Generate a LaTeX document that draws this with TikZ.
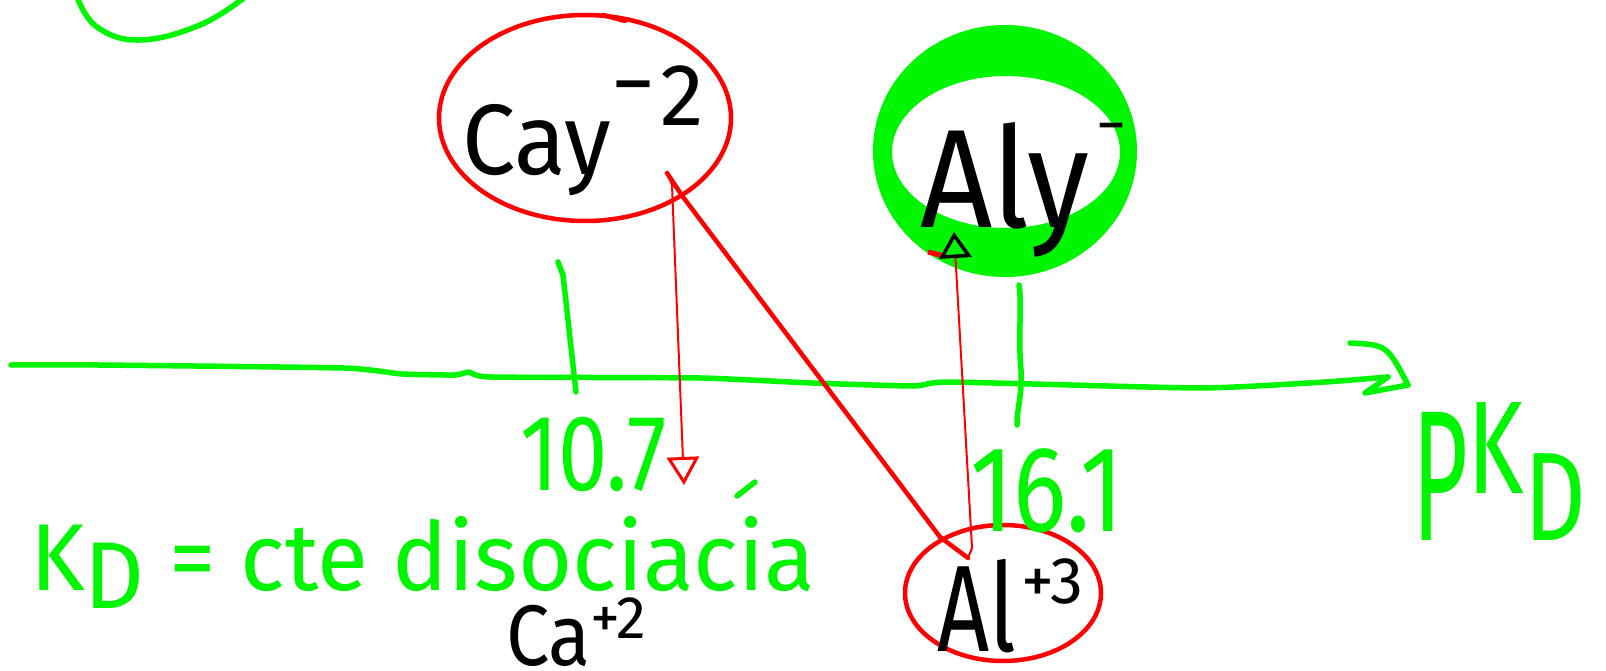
\documentclass[tikz,border=0pt]{standalone}
\usepackage{fontspec}
\setmainfont{Fira Sans}
\usetikzlibrary{arrows.meta,shapes.geometric}
\definecolor{hgreen}{RGB}{0,245,0}
\definecolor{hred}{RGB}{255,0,0}
\newcommand\fsz[1]{\fontsize{#1}{#1}\selectfont}
\begin{document}
\begin{tikzpicture}[x=1pt,y=-1pt,
  gline/.style={draw=hgreen,line width=5.5pt,line cap=round,line join=round},
  rthin/.style={draw=hred,line width=2pt,line cap=round,line join=round},
  rthick/.style={draw=hred,line width=4.5pt,line cap=round,line join=round},
  rring/.style={ellipse,draw=hred,line width=4.5pt,inner sep=0pt},
  hand/.style={inner sep=0pt,outer sep=0pt,anchor=base west},
  gtext/.style={hand,text=hgreen},
  ktext/.style={hand,text=black}]
\fill[white] (0,0) rectangle (1606,671);
\useasboundingbox (0,0) rectangle (1606,671);

% top-left arc
\draw[gline] plot[smooth,tension=0.7] coordinates {(77,-3) (97,27) (140,40) (200,25) (245,-3)};

% axis
\coordinate (ax0) at (11,365);
\coordinate (axend) at (1388,377);
\draw[gline] plot[smooth,tension=0.3] coordinates {(ax0) (98,365) (344,368) (402,374) (455,375) (469,372) (491,377) (700,378) (812,383) (914,386) (950,382) (1200,388) (1325,382) (axend)};
\draw[gline] (axend) -- (1365,393) -- (1408,385);
\draw[gline] (1350,343) .. controls (1387,345) .. (1408,385);

% ticks
\draw[gline] (558,262) -- (563,275) -- (576,392);
\draw[gline] (1019,285) .. controls (1022,300) and (1018,340) .. (1021,370) .. controls (1022,400) and (1017,405) .. (1017,425);

% ellipses
\node[rring, minimum width=292pt, minimum height=206pt] (cay) at (585,118) {};
\draw[rthick] (603,15) -- (625,21);
\node[ellipse, inner sep=0pt, minimum width=264pt, minimum height=252pt] (aly) at (1005,151) {};
\fill[hgreen,even odd rule] (aly.center) ellipse [x radius=132pt, y radius=126pt] (1006,152) ellipse [x radius=114pt, y radius=76pt];
\node[rring, minimum width=196pt, minimum height=136pt] (al3) at (1003,593) {};

% black labels
\node[ktext] (caylbl) at (462,175) {\fsz{100}\scalebox{0.95}[1]{Cay}\fsz{88}\raisebox{61pt}{−}\kern5pt\raisebox{49pt}{2}};
\node[ktext] (alylbl) at (920,228) {\fsz{140}\scalebox{0.9}[1]{Aly}\kern7pt\raisebox{82pt}{\fsz{60}−}};
\node[ktext] (al3lbl) at (937,651) {\fsz{123}\scalebox{0.74}[1]{Al}\kern6pt\raisebox{48pt}{\fsz{66}+3}};
\node[ktext] (ca2lbl) at (506,665) {\fsz{86}\scalebox{0.9}[1]{Ca}\raisebox{27pt}{\fsz{60}+2}};

% green labels
\node[gtext] (v107) at (520,490) {\fsz{108}\scalebox{0.82}[1]{10.7}};
\node[gtext] (v161) at (970,531) {\fsz{122}\scalebox{0.82}[1]{16.1}};
\node[gtext] (kd) at (30,590) {\fsz{95}\scalebox{0.98}[1]{K\raisebox{-18pt}{D} = cte disociacia}};
\node[gtext] (pkd) at (1412,540) {\fsz{120}\scalebox{0.8}[1.55]{P}\raisebox{47pt}{\scalebox{0.8}[1.1]{K}}\scalebox{0.8}[1.05]{D}};
\draw[gline] (737,496) -- (755,482);

% red connectors
\coordinate (cayfoot) at (667,173);
\coordinate (catip) at (684,485);
\coordinate (vtx) at (968,558);
\coordinate (alytip) at (954,232);
\draw[rthin,-{Triangle[open,length=28pt,width=32pt,line width=3pt]}] (cayfoot) -- (672,185) -- (catip);
\draw[rthick] (cayfoot) -- (683,197) -- (940,537) -- (vtx);
\draw[hred,line width=5pt] (928,252) -- (944,256);
\draw[rthin,-{Triangle[open,length=26pt,width=32pt,line width=3.5pt,color=black]}] (vtx) -- (972,548) -- (alytip);
\end{tikzpicture}
\end{document}
